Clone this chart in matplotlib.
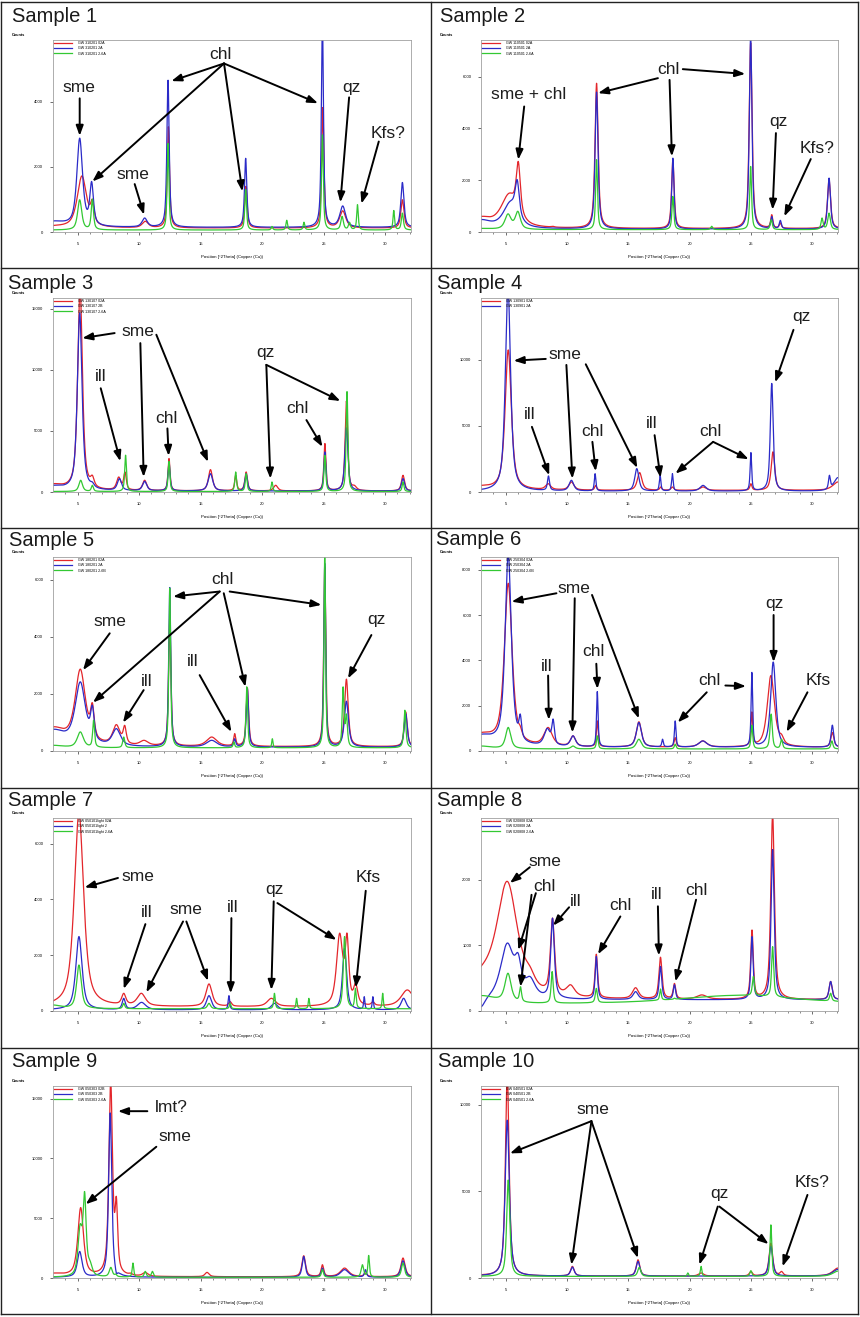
"""XRD diffractograms of ten clay samples (air-dried / glycolated / heated)."""

import numpy as np
import matplotlib
matplotlib.use("Agg")
import matplotlib.pyplot as plt
from matplotlib.lines import Line2D

plt.rcParams['font.family'] = ['Liberation Sans', 'DejaVu Sans']

RED, BLUE, GREEN = '#e3262b', '#2b2bc8', '#33c833'

# peaks: (position [deg 2theta], counts at peak, fwhm)
S1_RED = [(3.0, 200, 2.5), (5.35, 1720, 0.9), (6.2, 1000, 0.35), (10.5, 330, 0.6),
          (12.38, 3230, 0.22), (18.68, 1400, 0.24), (24.93, 3820, 0.22), (26.55, 650, 0.6),
          (31.4, 990, 0.3)]
S1_BLUE = [(3.0, 340, 2.5), (5.17, 2880, 0.55), (6.14, 1550, 0.35), (10.45, 430, 0.5),
           (12.35, 4660, 0.22), (18.66, 2260, 0.22), (24.9, 6500, 0.2), (26.55, 800, 0.55),
           (31.4, 1520, 0.3)]
S1_GREEN = [(5.17, 990, 0.4), (6.2, 1010, 0.22), (12.35, 2720, 0.17), (18.66, 1300, 0.17),
            (20.8, 170, 0.15), (22.0, 360, 0.15), (23.4, 300, 0.15), (24.9, 2980, 0.17),
            (26.5, 480, 0.25), (27.1, 300, 0.2), (27.75, 840, 0.15), (30.7, 660, 0.15),
            (31.4, 580, 0.2)]

S2_RED = [(3.0, 600, 2.0), (5.3, 1500, 1.6), (6.04, 2720, 0.4), (8.85, 220, 0.3),
          (12.42, 5740, 0.3), (18.64, 2790, 0.25), (24.98, 7300, 0.28), (26.7, 670, 0.2),
          (27.4, 350, 0.2), (31.37, 2020, 0.3)]
S2_BLUE = [(3.0, 480, 2.0), (5.4, 1200, 1.4), (5.95, 2020, 0.4), (12.42, 5400, 0.28),
           (18.64, 2850, 0.22), (24.98, 7600, 0.25), (26.7, 600, 0.2), (27.4, 450, 0.2),
           (31.37, 2080, 0.28)]
S2_GREEN = [(3.0, 140, 2.0), (5.2, 700, 0.6), (6.0, 800, 0.5), (12.42, 2790, 0.18),
            (18.64, 1375, 0.18), (21.8, 220, 0.2), (24.98, 2530, 0.18), (26.66, 475, 0.2),
            (30.8, 540, 0.2), (31.37, 730, 0.25)]

S3_RED = [(3.0, 680, 2.0), (5.2, 16800, 0.45), (6.2, 1370, 0.35), (8.34, 1230, 0.4),
          (8.85, 1640, 0.25), (10.45, 960, 0.4), (12.43, 2740, 0.2), (15.8, 1830, 0.4),
          (17.85, 1370, 0.2), (18.7, 1640, 0.25), (21.1, 550, 0.4), (25.1, 3970, 0.2),
          (26.85, 7440, 0.25), (27.5, 550, 0.4), (31.45, 1370, 0.3)]
S3_BLUE = [(3.0, 550, 2.0), (5.17, 14640, 0.45), (6.2, 820, 0.35), (8.4, 1100, 0.4),
           (10.45, 875, 0.4), (12.43, 2460, 0.2), (15.8, 1500, 0.45), (18.7, 1500, 0.25),
           (25.1, 3280, 0.2), (26.85, 5250, 0.3), (31.45, 1100, 0.3)]
S3_GREEN = [(5.25, 960, 0.35), (6.2, 550, 0.2), (8.9, 3010, 0.17), (12.43, 2500, 0.17),
            (17.85, 1640, 0.17), (18.7, 1500, 0.17), (20.8, 820, 0.15), (25.1, 3000, 0.17),
            (26.9, 8210, 0.17), (31.45, 820, 0.17)]

S4_RED = [(3.0, 500, 2.0), (5.22, 10750, 0.6), (8.47, 630, 0.5), (10.37, 760, 0.5),
          (12.35, 500, 0.2), (15.93, 1470, 0.45), (17.65, 380, 0.2), (18.6, 380, 0.25),
          (21.1, 380, 0.6), (25.0, 630, 0.2), (26.8, 3040, 0.35), (32.1, 760, 1.0)]
S4_BLUE = [(5.2, 15500, 0.5), (8.5, 1215, 0.2), (10.37, 885, 0.45), (12.3, 1390, 0.15),
           (15.7, 1770, 0.4), (17.6, 1265, 0.15), (18.6, 1390, 0.15), (21.1, 500, 0.6),
           (25.0, 2985, 0.15), (26.7, 8220, 0.28), (31.4, 1265, 0.18), (32.1, 1090, 0.8)]

S5_RED = [(3.0, 845, 2.5), (5.22, 2870, 1.0), (6.2, 1690, 0.35), (8.15, 925, 0.7),
          (8.83, 900, 0.3), (10.4, 375, 0.8), (12.49, 4700, 0.22), (15.9, 490, 1.0),
          (17.77, 610, 0.2), (18.8, 2215, 0.24), (25.09, 6470, 0.2), (26.85, 2520, 0.35),
          (31.67, 1370, 0.3)]
S5_BLUE = [(3.0, 760, 2.5), (5.22, 2425, 1.0), (6.2, 1605, 0.35), (8.15, 785, 0.8),
           (12.49, 5730, 0.2), (15.9, 375, 1.0), (17.77, 430, 0.2), (18.8, 2190, 0.22),
           (25.09, 6590, 0.18), (26.85, 1745, 0.4), (31.67, 1310, 0.3)]
S5_GREEN = [(3.0, 200, 2.0), (5.22, 670, 0.6), (6.3, 1080, 0.18), (8.75, 490, 0.2),
            (12.49, 5710, 0.17), (17.7, 320, 0.15), (18.75, 2250, 0.17), (20.83, 430, 0.12),
            (25.09, 6900, 0.15), (26.58, 2250, 0.17), (26.85, 1300, 0.2), (31.6, 1430, 0.2)]

S6_RED = [(3.0, 815, 2.5), (5.22, 7400, 0.75), (6.2, 1110, 0.3), (8.47, 1040, 0.8),
          (10.5, 670, 0.5), (12.48, 1330, 0.17), (15.87, 1290, 0.5), (18.83, 590, 0.2),
          (21.08, 445, 0.8), (25.08, 1730, 0.17), (26.63, 3330, 0.7), (27.5, 740, 0.4),
          (31.64, 815, 0.3)]
S6_BLUE = [(3.0, 740, 2.5), (5.22, 8700, 0.6), (6.2, 1630, 0.25), (8.4, 1000, 0.6),
           (8.88, 1410, 0.25), (10.5, 670, 0.5), (12.48, 2620, 0.15), (15.87, 1260, 0.5),
           (17.8, 520, 0.15), (18.83, 1330, 0.15), (21.08, 445, 0.8), (25.08, 3480, 0.15),
           (26.82, 3925, 0.5), (31.64, 1140, 0.25)]
S6_GREEN = [(3.0, 220, 2.0), (5.22, 1040, 0.5), (10.5, 220, 0.4), (12.48, 670, 0.17),
            (15.87, 520, 0.5), (18.83, 300, 0.17), (25.08, 1140, 0.17), (26.65, 1630, 0.22),
            (27.5, 520, 0.2), (31.6, 445, 0.2)]

S7_RED = [(5.11, 7100, 0.9), (8.75, 635, 0.4), (10.18, 635, 0.8), (15.68, 970, 0.6),
          (17.4, 335, 0.3), (20.75, 455, 0.8), (26.3, 2790, 0.6), (26.9, 2790, 0.35),
          (27.6, 1000, 0.4), (29.0, 335, 0.3), (31.8, 755, 1.2)]
S7_BLUE = [(5.11, 2670, 0.6), (8.75, 455, 0.3), (10.2, 310, 0.8), (15.68, 550, 0.5),
           (17.3, 550, 0.15), (21.0, 275, 0.6), (26.7, 2250, 0.4), (28.3, 515, 0.12),
           (29.0, 515, 0.12), (31.5, 455, 0.5)]
S7_GREEN = [(3.0, 215, 1.5), (5.11, 1650, 0.45), (8.75, 275, 0.2), (15.68, 275, 0.3),
            (17.4, 275, 0.15), (21.0, 635, 0.15), (22.8, 455, 0.12), (23.8, 455, 0.12),
            (26.7, 2670, 0.25), (27.58, 815, 0.15), (29.8, 635, 0.12)]

S8_RED = [(3.0, 680, 3.0), (5.14, 1975, 2.0), (7.0, 680, 1.0), (8.83, 1415, 0.4),
          (10.3, 400, 0.8), (12.4, 865, 0.25), (15.6, 355, 0.6), (17.63, 820, 0.3),
          (18.77, 420, 0.25), (21.0, 245, 1.0), (25.09, 1235, 0.25), (26.77, 3000, 0.35),
          (31.5, 450, 0.3)]
S8_BLUE = [(3.0, 65, 0.8), (5.14, 1035, 1.3), (6.03, 880, 0.6), (7.0, 525, 1.0),
           (8.83, 1415, 0.35), (12.4, 830, 0.22), (15.6, 295, 0.5), (17.63, 680, 0.25),
           (18.77, 400, 0.22), (25.09, 1135, 0.22), (26.77, 2460, 0.3), (31.5, 450, 0.3)]
S8_GREEN = [(3.0, 235, 3.0), (5.2, 575, 0.6), (6.22, 370, 0.2), (8.8, 600, 0.2),
            (12.4, 345, 0.2), (17.63, 335, 0.15), (18.77, 195, 0.15), (24.0, 240, 12.0),
            (25.2, 525, 0.2), (26.77, 980, 0.2), (31.5, 270, 0.2)]

S9_RED = [(3.0, 415, 2.0), (5.25, 5890, 0.55), (7.69, 16500, 0.35), (8.15, 6800, 0.25),
          (9.3, 415, 0.3), (10.5, 470, 0.5), (15.52, 470, 0.4), (23.38, 1860, 0.35),
          (24.9, 1110, 0.25), (26.7, 830, 0.8), (28.4, 415, 0.3), (31.45, 1670, 0.4)]
S9_BLUE = [(5.17, 2220, 0.45), (7.65, 13800, 0.3), (8.15, 415, 0.2), (23.38, 1800, 0.3),
           (24.9, 830, 0.25), (26.7, 700, 0.8), (28.4, 700, 0.2), (31.45, 1440, 0.4)]
S9_GREEN = [(5.2, 4500, 0.4), (5.57, 7220, 0.3), (6.0, 1500, 0.4), (7.7, 890, 0.3),
            (8.1, 330, 0.2), (9.5, 1250, 0.15), (10.5, 555, 0.2), (11.08, 555, 0.2),
            (24.9, 700, 0.2), (28.15, 1110, 0.25), (28.66, 1890, 0.15), (31.45, 1250, 0.3)]

S10_RED = [(3.0, 190, 1.5), (5.14, 11800, 0.35), (10.45, 670, 0.35), (15.8, 1050, 0.35),
           (20.94, 290, 0.5), (25.0, 380, 0.3), (26.63, 2010, 0.35), (27.5, 380, 0.3),
           (32.1, 575, 1.0)]
S10_BLUE = [(5.14, 9100, 0.4), (10.45, 630, 0.35), (15.8, 960, 0.35), (26.63, 1820, 0.35),
            (32.1, 500, 1.0)]
S10_GREEN = [(5.22, 5650, 0.3), (15.9, 610, 0.3), (19.86, 290, 0.15), (20.94, 670, 0.15),
             (25.0, 420, 0.2), (26.63, 3065, 0.17), (32.1, 400, 1.0)]

# flat background counts per scan (red, blue, green)
BASES = [(120, 140, 60), (130, 110, 90), (80, 80, 40), (120, 60, None), (150, 130, 110),
         (160, 160, 90), (150, 40, 80), (170, 170, 100), (100, 60, 60), (110, 110, 90)]

SCANS = [(S1_RED, S1_BLUE, S1_GREEN), (S2_RED, S2_BLUE, S2_GREEN),
         (S3_RED, S3_BLUE, S3_GREEN), (S4_RED, S4_BLUE, None),
         (S5_RED, S5_BLUE, S5_GREEN), (S6_RED, S6_BLUE, S6_GREEN),
         (S7_RED, S7_BLUE, S7_GREEN), (S8_RED, S8_BLUE, S8_GREEN),
         (S9_RED, S9_BLUE, S9_GREEN), (S10_RED, S10_BLUE, S10_GREEN)]

LEGENDS = [["GW 310201 02A", "GW 310201 2A", "GW 310201 2-6A"],
           ["GW 110501 02A", "GW 110501 2A", "GW 110501 2-6A"],
           ["GW 130107 02A", "GW 130107 2B", "GW 130107 2-6A"],
           ["GW 130901 02A", "GW 130901 2A"],
           ["GW 180201 02A", "GW 180201 2A", "GW 180201 2-6B"],
           ["GW 250304 02A", "GW 250304 2A", "GW 250304 2-6B"],
           ["GW 050101light 02A", "GW 050101light 2", "GW 050101light 2-6A"],
           ["GW 020808 02A", "GW 020808 2A", "GW 020808 2-6A"],
           ["GW 050303 02B", "GW 050303 2B", "GW 050303 2-6A"],
           ["GW 040501 02A", "GW 040501 2B", "GW 040501 2-6A"]]

Y_MAX = [5890, 7410, 15870, 14680, 6800, 8560, 6920, 2940, 16050, 11070]
Y_STEP = [2000, 2000, 5000, 5000, 2000, 2000, 2000, 1000, 5000, 5000]

# mineral labels: (text, text position, [(arrow start, arrow tip), ...]) in data units
ANN = [
    [("sme", (5.09, 4437), [((5.17, 4100), (5.17, 2950))]),
     ("sme", (9.5, 1754), [((9.64, 1470), (10.4, 530))]),
     ("chl", (16.63, 5447), [((16.9, 5170), (12.62, 4630)), ((16.9, 5170), (6.2, 1550)),
                             ((16.9, 5170), (18.39, 1245)), ((16.9, 5170), (24.54, 3950))]),
     ("qz", (27.25, 4437), [((27.07, 4130), (26.36, 910))]),
     ("Kfs?", (30.24, 3030), [((29.48, 2775), (28.07, 870))])],
    [("sme + chl", (6.85, 5294), [((6.52, 4844), (6.04, 2790))]),
     ("chl", (18.28, 6260), [((17.42, 5937), (12.54, 5360)), ((18.37, 5870), (18.56, 2920)),
                             ((19.45, 6285), (24.54, 6100))]),
     ("qz", (27.25, 4267), [((27.04, 3817), (26.77, 860))]),
     ("Kfs?", (30.43, 3225), [((29.88, 2815), (27.72, 605))])],
    [("sme", (9.91, 13138), [((8.01, 13000), (5.38, 12590)), ((10.1, 12180), (10.37, 1230)),
                             ((11.4, 12865), (15.6, 2460))]),
     ("ill", (6.88, 9440), [((6.88, 8485), (8.47, 2520))]),
     ("chl", (12.21, 6020), [((12.3, 5200), (12.4, 2955))]),
     ("qz", (20.26, 11440), [((20.34, 10400), (20.67, 1095)), ((20.34, 10400), (26.36, 7445))]),
     ("chl", (22.86, 6840), [((23.6, 5885), (24.9, 3695))])],
    [("sme", (9.86, 10420), [((8.28, 10070), (5.66, 9940)), ((9.96, 9615), (10.45, 1010)),
                             ((11.54, 9665), (15.74, 1820))]),
     ("ill", (6.98, 5870), [((7.15, 4930), (8.56, 1265))]),
     ("chl", (12.08, 4555), [((12.08, 3795), (12.35, 1570))]),
     ("ill", (16.88, 5190), [((17.15, 4300), (17.63, 1090))]),
     ("chl", (21.7, 4605), [((21.92, 3795), (18.85, 1390)), ((21.92, 3795), (24.82, 2480))]),
     ("qz", (29.15, 13280), [((28.47, 12270), (26.98, 8300))])],
    [("sme", (7.61, 4535), [((7.61, 4125), (5.44, 2835))]),
     ("chl", (16.77, 6000), [((16.55, 5590), (12.76, 5415)), ((16.55, 5590), (6.25, 1700)),
                             ((16.88, 5530), (18.64, 2250)), ((17.36, 5590), (24.82, 5120))]),
     ("ill", (10.59, 2425), [((10.37, 2135), (8.69, 995))]),
     ("ill", (14.33, 3130), [((14.92, 2660), (17.5, 670))]),
     ("qz", (29.29, 4595), [((28.88, 4065), (26.98, 2545))])],
    [("sme", (10.56, 7150), [((9.15, 6960), (5.49, 6590)), ((10.64, 6740), (10.45, 815)),
                             ((12.05, 6885), (15.87, 1435))]),
     ("ill", (8.39, 3745), [((8.47, 3330), (8.53, 1375))]),
     ("chl", (12.13, 4400), [((12.4, 3850), (12.49, 2740))]),
     ("chl", (21.62, 3110), [((22.92, 2890), (24.6, 2860)), ((21.4, 2590), (19.04, 1260))]),
     ("qz", (26.9, 6515), [((26.85, 6000), (26.85, 3925))]),
     ("Kfs", (30.51, 3110), [((29.61, 2590), (27.91, 845))])],
    [("sme", (9.91, 4830), [((8.28, 4770), (5.57, 4430))]),
     ("ill", (10.64, 3545), [((10.51, 3115), (8.75, 790))]),
     ("sme", (13.84, 3650), [((13.57, 3210), (10.59, 670)), ((13.84, 3210), (15.6, 1080))]),
     ("ill", (17.58, 3725), [((17.5, 3330), (17.44, 635))]),
     ("qz", (21.02, 4350), [((20.94, 3930), (20.75, 755)), ((21.24, 3870), (26.04, 2550))]),
     ("Kfs", (28.66, 4770), [((28.42, 4310), (27.61, 840))])],
    [("sme", (8.2, 2270), [((6.98, 2190), (5.36, 1950))]),
     ("chl", (8.2, 1900), [((7.47, 1795), (6.04, 930)), ((7.12, 1770), (6.22, 370))]),
     ("ill", (10.72, 1670), [((10.18, 1580), (8.88, 1300))]),
     ("chl", (14.36, 1610), [((14.36, 1440), (12.54, 865))]),
     ("ill", (17.36, 1770), [((17.42, 1595), (17.5, 845))]),
     ("chl", (20.53, 1835), [((20.53, 1695), (18.85, 450))])],
    [("lmt?", (12.62, 14220), [((10.67, 13945), (8.28, 13945))]),
     ("sme", (12.95, 11860), [((11.4, 10970), (5.66, 6165))])],
    [("sme", (12.13, 9735), [((12.0, 9045), (5.36, 7185)), ((12.0, 9045), (10.37, 765)),
                             ((12.0, 9045), (15.79, 1150))]),
     ("qz", (22.43, 4885), [((22.3, 4120), (20.8, 765)), ((22.43, 4120), (26.44, 1955))]),
     ("Kfs?", (29.96, 5520), [((29.61, 4790), (27.58, 670))])],
]

FIG_W, FIG_H = 860, 1317
COL_X = [(53, 411), (481, 838)]
ROW_Y = [(40, 232), (298, 492), (557, 751), (818, 1011), (1086, 1278)]
TITLE_XY = [(12, 7), (440, 7), (8, 274), (437, 274), (9, 531),
            (436, 530), (8, 791), (437, 791), (12, 1052), (438, 1052)]
GRID_X = [1, 431, 858]
GRID_Y = [2, 268, 528, 788, 1048, 1314]

TWO_THETA = np.linspace(3.0, 32.1, 3000)


def shape(x, pos, fwhm, eta=0.7):
    # pseudo-Voigt line profile with unit height
    u = (x - pos) / (fwhm / 2.0)
    return eta / (1 + u ** 2) + (1 - eta) * np.exp(-np.log(2) * u ** 2)


def scan(peaks, base):
    pos = np.array([p[0] for p in peaks])
    counts = np.array([p[1] for p in peaks], dtype=float)
    fwhm = np.array([p[2] for p in peaks])
    m = shape(pos[:, None], pos[None, :], fwhm[None, :])
    amp = np.linalg.lstsq(m, counts - base, rcond=None)[0]
    return base + shape(TWO_THETA[:, None], pos[None, :], fwhm[None, :]) @ amp


def px(x, y):
    return x / FIG_W, 1 - y / FIG_H


fig = plt.figure(figsize=(FIG_W / 100, FIG_H / 100), dpi=100)

for gx in GRID_X:
    fig.add_artist(Line2D([gx / FIG_W] * 2, [1 - GRID_Y[0] / FIG_H, 1 - GRID_Y[-1] / FIG_H],
                          color='#222222', lw=1.0))
for gy in GRID_Y:
    fig.add_artist(Line2D([GRID_X[0] / FIG_W, GRID_X[-1] / FIG_W], [1 - gy / FIG_H] * 2,
                          color='#222222', lw=1.0))

for i in range(10):
    row, col = divmod(i, 2)
    x0, x1 = COL_X[col]
    y0, y1 = ROW_Y[row]
    ax = fig.add_axes([x0 / FIG_W, 1 - y1 / FIG_H, (x1 - x0) / FIG_W, (y1 - y0) / FIG_H])

    for peaks, base, colour, label in zip(SCANS[i], BASES[i], (RED, BLUE, GREEN),
                                          LEGENDS[i] + [None]):
        if peaks is None:
            continue
        ax.plot(TWO_THETA, scan(peaks, base), color=colour, lw=0.9, label=label)

    ax.set_xlim(3.0, 32.1)
    ax.set_ylim(0, Y_MAX[i])
    ax.set_xticks([5, 10, 15, 20, 25, 30])
    ax.set_xticks(np.arange(4, 33), minor=True)
    ax.set_yticks(np.arange(0, Y_MAX[i], Y_STEP[i]))
    ax.tick_params(labelsize=3, length=2, width=0.5, color='#333333', pad=5)
    ax.tick_params(which='minor', length=1.2, width=0.4, color='#333333')
    for sp in ax.spines.values():
        sp.set_color('#a0a0a0')
        sp.set_linewidth(0.6)
    ax.set_xlabel('Position [°2Theta] (Copper (Cu))', fontsize=3.2, labelpad=7)
    ax.legend(loc='upper left', fontsize=2.6, frameon=False, handlelength=5,
              handletextpad=1.5, borderaxespad=0.1, borderpad=0.2, labelspacing=0.35)

    fig.text(*px(x0 - 41, y0 - 3), 'Counts', fontsize=2.8, weight='bold',
             ha='left', va='bottom')
    fig.text(*px(*TITLE_XY[i]), f'Sample {i + 1}', fontsize=14.5, color='#1a1a1a',
             ha='left', va='top')

    for text, xy, arrows in ANN[i]:
        ax.text(xy[0], xy[1], text, fontsize=12.5, color='#1e1e1e',
                ha='center', va='center')
        for start, tip in arrows:
            ax.annotate('', xy=tip, xytext=start, annotation_clip=False,
                        arrowprops=dict(arrowstyle='-|>,head_length=0.6,head_width=0.22',
                                        color='black', lw=1.4, shrinkA=0, shrinkB=0))

fig.savefig('out.png', dpi=100)
